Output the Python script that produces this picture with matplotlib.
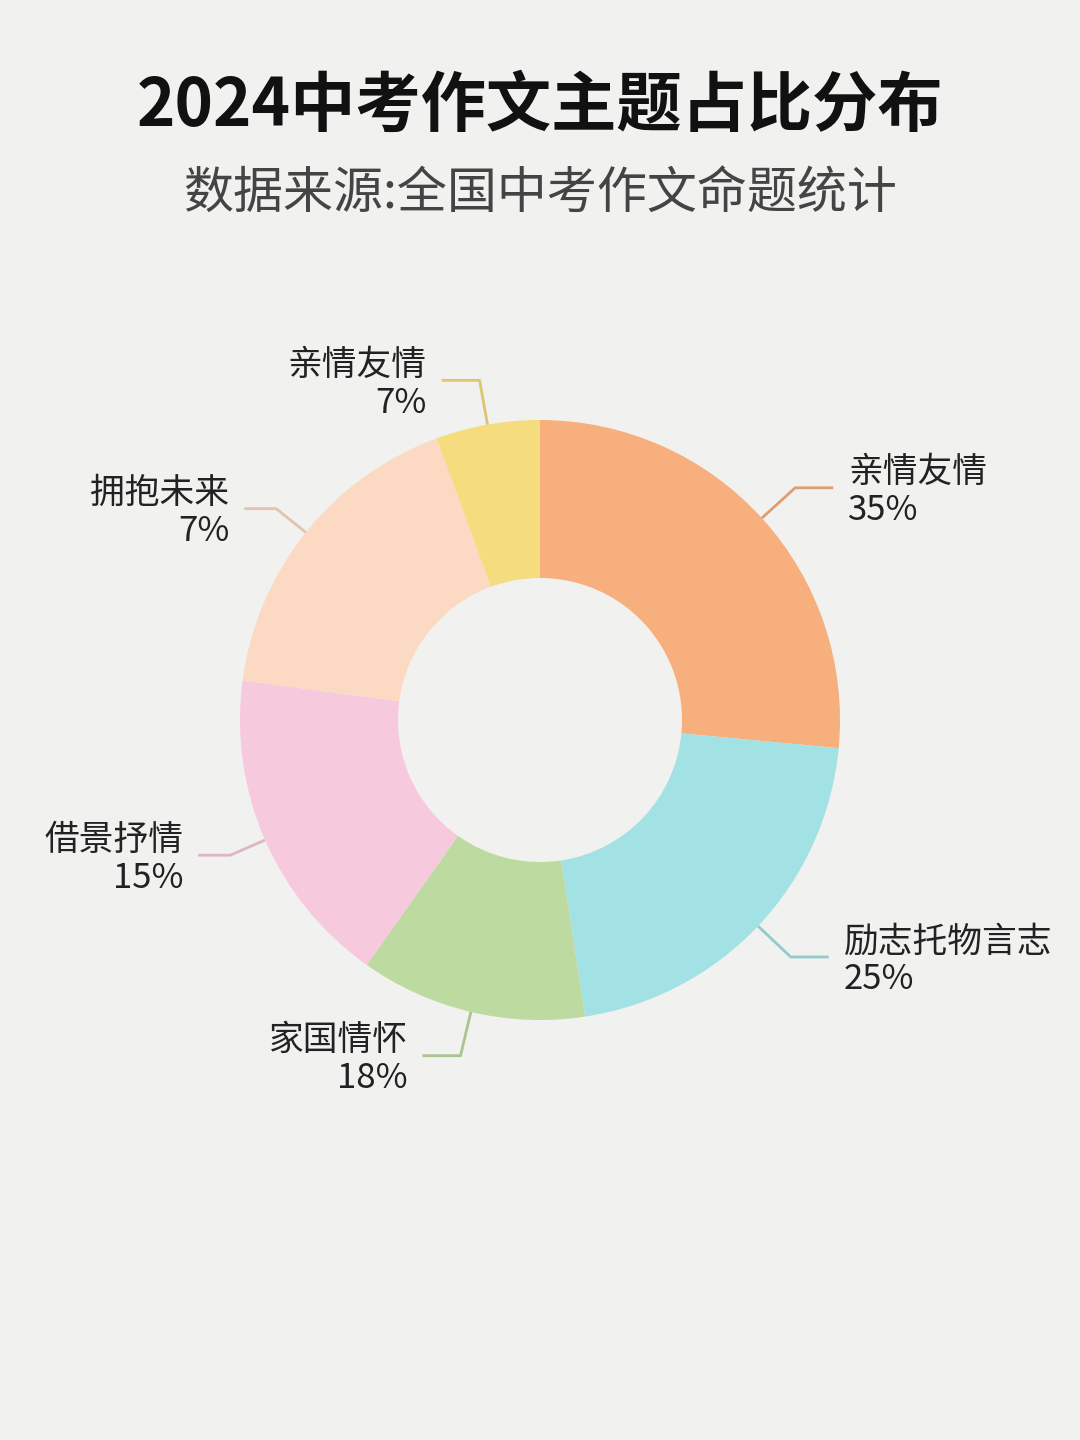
import numpy as np
import matplotlib.pyplot as plt
import matplotlib.colors as mcolors

plt.rcParams['font.family'] = ['Noto Sans CJK SC', 'DejaVu Sans']

# 数据
names = ['亲情友情', '励志托物言志', '家国情怀', '借景抒情', '拥抱未来', '亲情友情']
pct_labels = ['35%', '25%', '18%', '15%', '7%', '7%']
shares = [26.5, 21.1, 12.2, 17.3, 17.3, 5.6]   # 图中扇形实际大小
colors = ['#F8AF7E', '#A3E2E4', '#BDDAA0', '#F7C9DD', '#FCD9C2', '#F5DC7E']
bg = '#F1F1EF'

fig = plt.figure(figsize=(10.8, 14.4), dpi=100, facecolor=bg)
ax = fig.add_axes([0, 0, 1, 1])
ax.set_xlim(0, 1080)
ax.set_ylim(0, 1440)
ax.set_aspect('equal')
ax.axis('off')

cx, cy, R = 540, 720, 300
wedges, _ = ax.pie(shares, colors=colors, startangle=90, counterclock=False,
                   center=(cx, cy), radius=R,
                   wedgeprops=dict(width=158, edgecolor='none'))
ax.set_xlim(0, 1080)
ax.set_ylim(0, 1440)

# 引导线和标签
for w, name, pct, col in zip(wedges, names, pct_labels, colors):
    ang = np.deg2rad((w.theta1 + w.theta2) / 2)
    side = 1 if np.cos(ang) >= 0 else -1
    long_leg = side > 0 or abs(np.sin(ang)) > 0.9
    r2 = 345 if long_leg else 338
    x0, y0 = cx + R * np.cos(ang), cy + R * np.sin(ang)
    x1, y1 = cx + r2 * np.cos(ang), cy + r2 * np.sin(ang)
    x2 = x1 + side * (38 if long_leg else 32)
    lc = np.array(mcolors.to_rgb(col)) * 0.9
    ax.plot([x0, x1, x2], [y0, y1, y1], color=lc, lw=2, solid_capstyle='butt')
    ax.text(x2 + side * 15, y1 - 4, name + '\n' + pct, fontsize=25,
            ha='left' if side > 0 else 'right', va='center',
            multialignment='left' if side > 0 else 'right',
            color='#222222', linespacing=1.1)

fig.text(0.5, 1 - 106 / 1440, '2024中考作文主题占比分布', fontsize=47,
         fontweight='black', ha='center', va='center', color='#111111')
fig.text(0.5, 1 - 194 / 1440, '数据来源:全国中考作文命题统计', fontsize=36,
         ha='center', va='center', color='#444444')

fig.savefig('out.png', dpi=100, facecolor=bg)
